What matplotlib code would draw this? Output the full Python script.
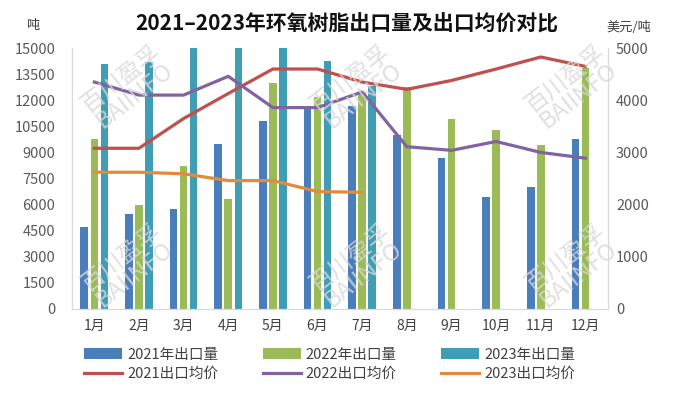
import matplotlib
matplotlib.use('Agg')
import matplotlib.pyplot as plt
import numpy as np

plt.rcParams['font.family'] = ['Noto Sans CJK SC', 'DejaVu Sans']

months = ['1月', '2月', '3月', '4月', '5月', '6月', '7月', '8月', '9月', '10月', '11月', '12月']

# export volume (tons)
vol_2021 = [4700, 5450, 5750, 9500, 10800, 11700, 11650, 10000, 8700, 6450, 7000, 9750]
vol_2022 = [9800, 6000, 8200, 6300, 13000, 12200, 12400, 12750, 10900, 10300, 9400, 13850]
vol_2023 = [14100, 14200, 15500, 15500, 15500, 14250, 12800]

# average export price (USD/ton)
price_2021 = [3080, 3080, 3650, 4130, 4600, 4600, 4350, 4210, 4380, 4600, 4830, 4650]
price_2022 = [4350, 4100, 4100, 4460, 3860, 3860, 4160, 3110, 3040, 3210, 3000, 2890]
price_2023 = [2620, 2620, 2590, 2460, 2460, 2250, 2235]

c_blue = '#4a7ebb'
c_green = '#9bbb59'
c_teal = '#3f9db4'
c_red = '#c0504d'
c_purple = '#8064a2'
c_orange = '#e48a3c'
tick_c = '#595959'

fig = plt.figure(figsize=(6.73, 3.98), dpi=100)
ax = fig.add_axes([0.107, 0.224, 0.796, 0.655])
ax2 = ax.twinx()

x = np.arange(len(months))
w = 0.17
off = 0.225
b1 = ax.bar(x - off, vol_2021, w, color=c_blue, label='2021年出口量')
b2 = ax.bar(x, vol_2022, w, color=c_green, label='2022年出口量')
b3 = ax.bar(np.arange(len(vol_2023)) + off, vol_2023, w, color=c_teal, label='2023年出口量')

l1, = ax2.plot(x, price_2021, color=c_red, lw=2.3, label='2021出口均价')
l2, = ax2.plot(x, price_2022, color=c_purple, lw=2.3, label='2022出口均价')
l3, = ax2.plot(np.arange(len(price_2023)), price_2023, color=c_orange, lw=2.3, label='2023出口均价')

ax.set_xlim(-0.5, 11.5)
ax.set_ylim(0, 15000)
ax.set_yticks(np.arange(0, 15001, 1500))
ax2.set_ylim(0, 5000)
ax2.set_yticks(np.arange(0, 5001, 1000))
ax.set_xticks(x)
ax.set_xticklabels(months)

for a in (ax, ax2):
    for s in a.spines.values():
        s.set_visible(False)
    a.tick_params(length=0, colors=tick_c, labelsize=10.5)
ax.spines['left'].set_visible(True)
ax.spines['bottom'].set_visible(True)
ax2.spines['right'].set_visible(True)
for s in (ax.spines['left'], ax.spines['bottom'], ax2.spines['right']):
    s.set_color('#d9d9d9')
    s.set_linewidth(0.9)
ax.tick_params(axis='y', pad=12)
ax2.tick_params(axis='y', pad=6)
ax.tick_params(axis='x', pad=7, labelsize=10, colors='#404040')

# watermarks
for wx, wy in [(0.19, 0.78), (0.53, 0.78), (0.85, 0.78), (0.19, 0.33), (0.53, 0.33), (0.85, 0.33)]:
    fig.text(wx, wy, '百川盈孚\nBAIINFO', rotation=38, fontsize=17, color='#d8d8d8', alpha=0.8,
             ha='center', va='center', linespacing=0.9, zorder=0)

fig.text(0.516, 0.94, '2021–2023年环氧树脂出口量及出口均价对比', ha='center', va='center',
         fontsize=15, fontweight='bold', color='#111111')
fig.text(0.049, 0.937, '吨', ha='center', va='center', fontsize=9.5, color='#404040')
fig.text(0.935, 0.932, '美元/吨', ha='center', va='center', fontsize=9.5, color='#404040')

handles = [b1, l1, b2, l2, b3, l3]
fig.legend(handles=handles, labels=[h.get_label() for h in handles], ncol=3,
           loc='center', bbox_to_anchor=(0.49, 0.085), frameon=False, fontsize=10.5,
           handlelength=2.6, handleheight=0.7, handletextpad=0.35, columnspacing=3.05,
           labelspacing=0.35, labelcolor='#404040')

fig.savefig('out.png', dpi=100)
